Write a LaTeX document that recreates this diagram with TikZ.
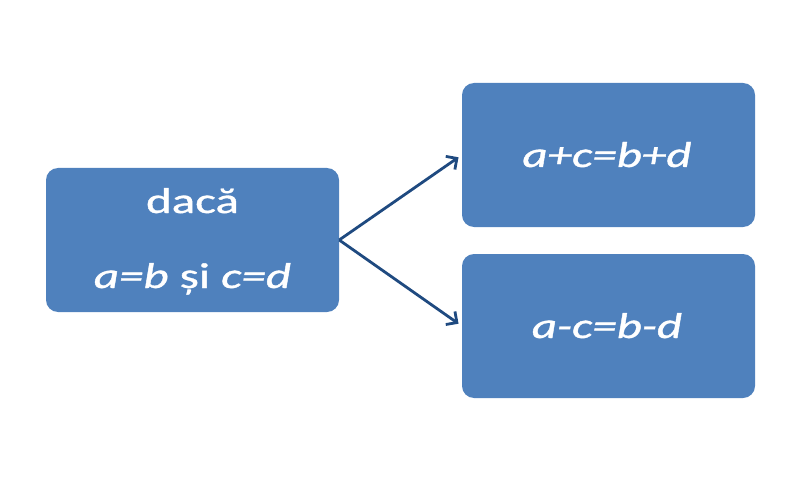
\documentclass[tikz,border=0pt]{standalone}
\usepackage{fontspec}
\setmainfont{Carlito}
\usetikzlibrary{arrows.meta,positioning}
\definecolor{boxblue}{HTML}{4F81BD}
\definecolor{arrowblue}{HTML}{1F4A80}
\tikzset{
  box/.style={fill=boxblue, rounded corners=12pt, minimum width=293pt, minimum height=144pt, inner sep=0pt},
  txt/.style={text=white, anchor=base, inner sep=0pt, font=\fontsize{36}{40}\selectfont\addfontfeatures{FakeBold=0.9}},
  arr/.style={draw=arrowblue, line width=2.8pt, shorten >=4pt, -{Straight Barb[length=8pt,width=16pt]}}
}
\newcommand{\wide}[1]{\scalebox{1.36}[1]{#1}}
\begin{document}
\begin{tikzpicture}[x=1pt,y=1pt]
      \useasboundingbox (0,0) rectangle (808,480);

      \node[box] (daca) at (192.5,240) {};
      \node[box] (sum) at (608.5,325) {};
      \node[box] (dif) at (608.5,154) {};

      \node[txt] (daca-1) at (192.5,267) {\wide{dacă}};
      \node[txt] (daca-2) at (192.5,192) {\wide{\itshape a=b \upshape și \itshape c=d}};
      \node[txt] (sum-t) at (607,313) {\wide{\itshape a+c=b+d}};
      \node[txt] (dif-t) at (607,142) {\wide{\itshape a-c=b-d}};

      \draw[arr] (daca.east) -- (sum.west);
      \draw[arr] (daca.east) -- (dif.west);
    \end{tikzpicture}
\end{document}
